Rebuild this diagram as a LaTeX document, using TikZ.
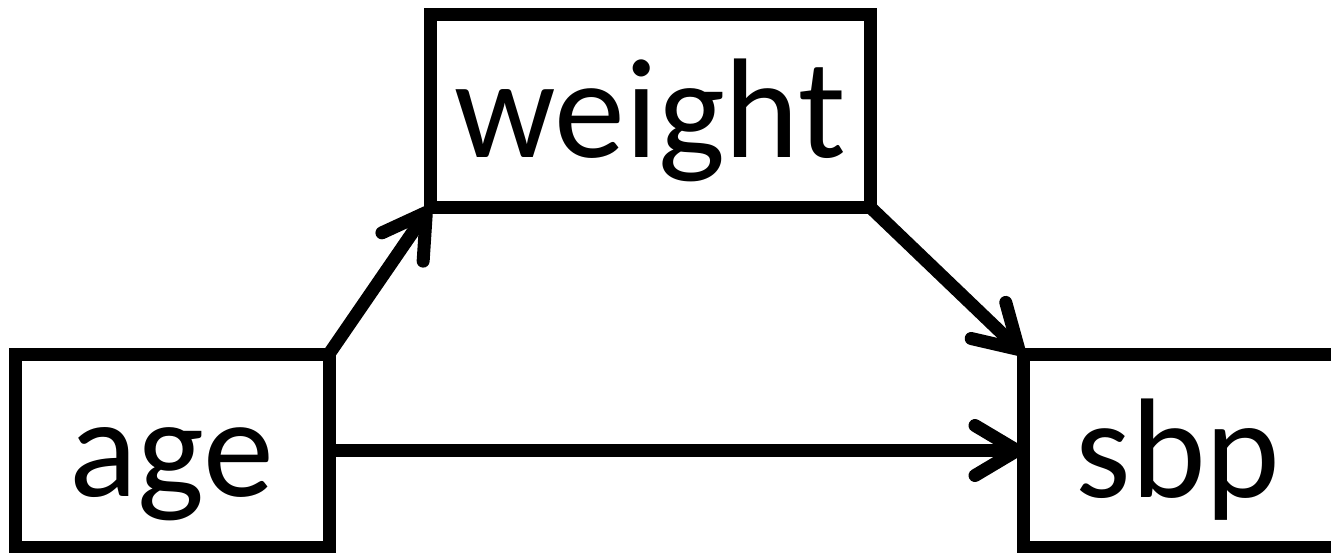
\documentclass[tikz,border=0pt]{standalone}
\usepackage{fontspec}
\setmainfont{Carlito}
\usetikzlibrary{arrows.meta}
\tikzset{
  box/.style={draw=black, line width=6.5pt, rectangle, inner sep=0pt, outer sep=0pt},
  lbl/.style={anchor=base, inner sep=0pt, font=\fontsize{71pt}{80pt}\selectfont},
  conn/.style={line width=6.5pt, -{Straight Barb[length=21pt,width=25pt,line cap=round,line join=round]}},
}
\begin{document}
\begin{tikzpicture}[x=0.5pt,y=-0.5pt]
\useasboundingbox (0,0) rectangle (1331,552);
\node[box, minimum width=157pt, minimum height=96.5pt] (age) at (172,450.5) {};
\node[box, minimum width=220pt, minimum height=96.5pt] (weight) at (650,110.5) {};
\node[box, minimum width=159pt, minimum height=96.5pt] (sbp) at (1182.5,450.5) {};
\node[lbl] (agetext) at (172,496) {age};
\node[lbl] (weighttext) at (650,157) {weight};
\node[lbl] (sbptext) at (1178,497) {sbp};
\draw[conn] (age.north east) -- (weight.south west);
\draw[conn] (weight.south east) -- (sbp.north west);
\draw[conn] (age.east) -- (sbp.west);
\end{tikzpicture}
\end{document}
